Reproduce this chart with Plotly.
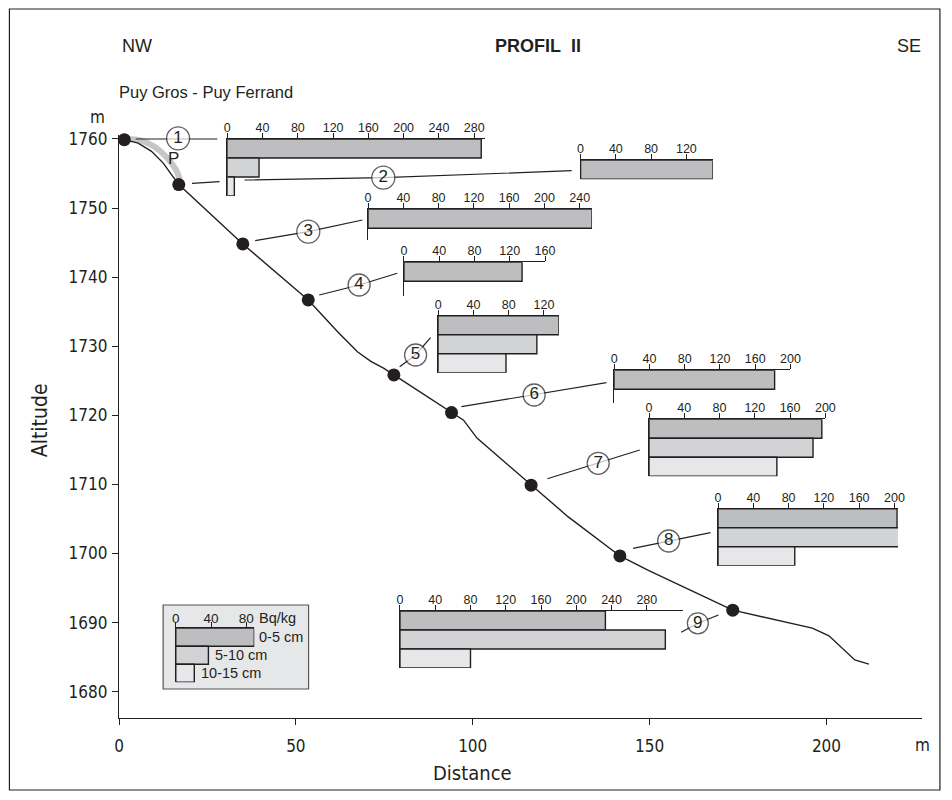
import plotly.graph_objects as go

# ---------------- data ----------------
profile_distance = [1.5, 5.4, 9.2, 12.5, 15.3, 16.9, 35.0, 53.5, 61.8, 67.4, 71.2, 74.9, 77.7,
                    94.0, 97.4, 101.2, 116.5, 127.0, 141.6, 149.5, 173.5, 196.0, 200.7, 208.0, 212.0]
profile_altitude = [1759.9, 1759.4, 1758.2, 1756.5, 1754.5, 1753.4, 1744.8, 1736.7, 1732.1, 1729.2,
                    1727.8, 1726.8, 1725.85, 1720.4, 1719.3, 1716.7, 1709.9, 1705.3, 1699.65, 1697.6,
                    1691.8, 1689.2, 1688.1, 1684.6, 1684.0]

site_labels = ["1", "2", "3", "4", "5", "6", "7", "8", "9"]
site_distance = [1.5, 16.9, 35.0, 53.5, 77.7, 94.0, 116.5, 141.6, 173.5]
site_altitude = [1759.9, 1753.4, 1744.8, 1736.7, 1725.85, 1720.4, 1709.9, 1699.65, 1691.8]

depth_classes = ["0-5 cm", "5-10 cm", "10-15 cm"]
activity_0_5 = [288, 150, 254, 134, 137, 182, 196, 203, 233]
activity_5_10 = [36, None, None, None, 112, None, 186, 211, 301]
activity_10_15 = [8, None, None, None, 77, None, 145, 87, 80]

legend_activity = [89, 37, 21]
legend_ticks = [0, 40, 80]

inset_ticks = [
    [0, 40, 80, 120, 160, 200, 240, 280],
    [0, 40, 80, 120],
    [0, 40, 80, 120, 160, 200, 240],
    [0, 40, 80, 120, 160],
    [0, 40, 80, 120],
    [0, 40, 80, 120, 160, 200],
    [0, 40, 80, 120, 160, 200],
    [0, 40, 80, 120, 160, 200],
    [0, 40, 80, 120, 160, 200, 240, 280],
]

distance_ticks = [0, 50, 100, 150, 200]
altitude_ticks = [1680, 1690, 1700, 1710, 1720, 1730, 1740, 1750, 1760]

# ---------------- layout / style ----------------
# figure is placed by the page at (8, 8); all *_px positions below are window pixels
OFF = 8
W, H = 936, 784
ML, MR, MT, MB = 111, 19, 127, 74
X_RANGE = [0, 227]
Y_RANGE = [1676.2, 1760.57]
PW, PH = W - ML - MR, H - MT - MB


def paper_x(px):
    return (px - OFF - ML) / PW


def paper_y(py):
    return (H - MB - (py - OFF)) / PH


def data_x(px):
    return X_RANGE[0] + paper_x(px) * (X_RANGE[1] - X_RANGE[0])


def data_y(py):
    return Y_RANGE[0] + paper_y(py) * (Y_RANGE[1] - Y_RANGE[0])


FONT = "Liberation Sans, Arial, sans-serif"
NARROW = "Liberation Sans Narrow, Arial Narrow, DejaVu Sans Condensed, Liberation Sans, sans-serif"
INK = "#231f20"
DEPTH_COLORS = ["#bcbec0", "#d1d3d4", "#e6e7e8"]
SCALE = 0.885      # px per Bq/kg in the insets
BAR_H = 19         # px per depth bar

# inset frames: (x px of zero, y px of top axis line, axis length in Bq/kg, stem px below bars)
inset_frames = [
    (227.7, 139.0, 292, 0),
    (582.3, 160.3, 150, 0),
    (369.0, 209.3, 254, 12),
    (405.0, 262.3, 160, 15),
    (439.3, 315.7, 137, 0),
    (616.0, 370.3, 200, 14),
    (651.0, 419.3, 200, 0),
    (720.3, 508.7, 204, 0),
    (401.0, 611.0, 321, 0),
]
legend_frame = (176.0, 628.3, 89, 0)
LEGEND_BAR_H = 18

circle_px = [(178.3, 138.3), (384.3, 177.7), (309, 231.7), (360, 285), (416.7, 355),
             (535.7, 395), (600, 463.3), (670.7, 541), (700, 623.3)]
circle_sizes = [23, 23, 23, 22, 22, 22, 22, 22, 21]
leader_px = [
    [(135.7, 139), (217.7, 139)],
    [(192.3, 183.3), (220, 181.7)],
    [(245, 180), (384.3, 177.7), (573.3, 170.7)],
    [(255.7, 240.7), (309, 231.7), (363.3, 220)],
    [(320, 295), (360, 285), (398.3, 273.3)],
    [(400.7, 366.7), (416.7, 355), (431.7, 337.7)],
    [(462.7, 406.7), (535.7, 395), (608.3, 382.7)],
    [(549, 478.7), (600, 463.3), (641.7, 450)],
    [(635, 548.3), (670.7, 541), (712.7, 532.7)],
    [(683.3, 632.3), (700, 623.3), (720.7, 615)],
]
shade_px = [(127, 139), (141, 140.5), (155, 147), (167, 157.5), (176, 169.5), (180, 179)]

fig = go.Figure()

# shaded band "P"
fig.add_trace(go.Scatter(
    x=[data_x(p[0]) for p in shade_px], y=[data_y(p[1]) for p in shade_px],
    mode="lines", line=dict(color="#c6c6c6", width=6, shape="spline"),
    hoverinfo="skip", showlegend=False, cliponaxis=False))

# profile line
fig.add_trace(go.Scatter(
    x=profile_distance, y=profile_altitude, mode="lines",
    line=dict(color=INK, width=1.4), hoverinfo="skip", showlegend=False, cliponaxis=False))

# leader lines
lx, ly = [], []
for seg in leader_px:
    for p in seg:
        lx.append(data_x(p[0]))
        ly.append(data_y(p[1]))
    lx.append(None)
    ly.append(None)
fig.add_trace(go.Scatter(x=lx, y=ly, mode="lines", line=dict(color=INK, width=1.2),
                         hoverinfo="skip", showlegend=False, cliponaxis=False))

# sample sites
fig.add_trace(go.Scatter(
    x=site_distance, y=site_altitude, mode="markers",
    marker=dict(color=INK, size=13, line=dict(width=0)),
    hoverinfo="skip", showlegend=False, cliponaxis=False))

# numbered circles
fig.add_trace(go.Scatter(
    x=[data_x(p[0]) for p in circle_px], y=[data_y(p[1]) for p in circle_px],
    mode="markers+text", text=site_labels, textposition="middle center",
    textfont=dict(family=FONT, size=17, color=INK),
    marker=dict(symbol="circle", size=circle_sizes, color="white", line=dict(color=INK, width=1.3)),
    hoverinfo="skip", showlegend=False, cliponaxis=False))

layout = dict(
    width=W, height=H,
    margin=dict(l=ML, r=MR, t=MT, b=MB),
    paper_bgcolor="white", plot_bgcolor="rgba(0,0,0,0)",
    font=dict(family=FONT, color=INK),
    showlegend=False,
    xaxis=dict(domain=[0, 1], range=X_RANGE, showline=True, linecolor=INK, linewidth=1.3,
               ticks="outside", ticklen=6, tickwidth=1.2, tickcolor=INK, tickvals=distance_ticks,
               tickfont=dict(size=17, family=NARROW, color=INK), ticklabelstandoff=6,
               showgrid=False, zeroline=False, fixedrange=True),
    yaxis=dict(domain=[0, 1], range=Y_RANGE, showline=True, linecolor=INK, linewidth=1.3,
               ticks="outside", ticklen=6, tickwidth=1.2, tickcolor=INK, tickvals=altitude_ticks,
               tickfont=dict(size=17, family=NARROW, color=INK), ticklabelstandoff=1,
               showgrid=False, zeroline=False, fixedrange=True),
)


def add_inset(n, values, frame, ticks, bar_h, font_size=12.5, standoff=-4):
    zero_px, top_px, length, stem = frame
    nb = len(values)
    fig.add_trace(go.Bar(
        x=values, y=list(range(nb)), orientation="h", width=1,
        marker=dict(color=DEPTH_COLORS[:nb], line=dict(color=INK, width=1.4)),
        xaxis=f"x{n}", yaxis=f"y{n}", hoverinfo="skip", showlegend=False, cliponaxis=False))
    dom_h = nb * bar_h + stem
    layout[f"xaxis{n}"] = dict(
        domain=[paper_x(zero_px), paper_x(zero_px + length * SCALE)], range=[0, length],
        anchor=f"y{n}", side="top", showline=True, linecolor=INK, linewidth=1.4,
        ticks="outside", ticklen=5, tickwidth=1.1, tickcolor=INK, tickvals=ticks,
        tickfont=dict(size=font_size, family=FONT, color=INK), ticklabelstandoff=standoff,
        showgrid=False, zeroline=False, fixedrange=True)
    layout[f"yaxis{n}"] = dict(domain=[paper_y(top_px + dom_h), paper_y(top_px)],
                               range=[nb - 0.5 + stem / bar_h, -0.5], anchor=f"x{n}",
                               showline=True, linecolor=INK, linewidth=1.4,
                               showticklabels=False, ticks="", showgrid=False,
                               zeroline=False, fixedrange=True)


for i in range(9):
    vals = [v for v in (activity_0_5[i], activity_5_10[i], activity_10_15[i]) if v is not None]
    add_inset(i + 2, vals, inset_frames[i], inset_ticks[i], BAR_H)

LEG = 11
add_inset(LEG, legend_activity, legend_frame, legend_ticks, LEGEND_BAR_H, font_size=13.5, standoff=-6)

annotations = []


def txt(text, px, py, size, xanchor="center", bold=False, angle=0, family=FONT):
    annotations.append(dict(
        text=f"<b>{text}</b>" if bold else text, x=paper_x(px), y=paper_y(py),
        xref="paper", yref="paper", xanchor=xanchor, yanchor="middle", showarrow=False,
        textangle=angle, font=dict(family=family, size=size, color=INK)))


txt("NW", 137, 46, 18)
txt("PROFIL\u00a0\u00a0II", 540, 46, 18, bold=True)
txt("SE", 912, 46, 18)
txt("Puy Gros - Puy Ferrand", 117, 91.5, 16.5, xanchor="left")
txt("m", 97, 117, 17, family=NARROW)
txt("P", 173.5, 158, 17)
txt("Distance", 474, 773, 20, family=NARROW)
txt("Altitude", 40, 420, 21, angle=-90, family=NARROW)
txt("m", 926, 745, 17, family=NARROW)

# legend labels
shifts = [3, 5, 5]
for j, label in enumerate(depth_classes):
    annotations.append(dict(
        text=label, x=legend_activity[j], y=j, xref=f"x{LEG}", yref=f"y{LEG}",
        xanchor="left", yanchor="middle", xshift=shifts[j], showarrow=False,
        font=dict(family=FONT, size=14.5, color=INK)))
annotations.append(dict(
    text="Bq/kg", x=80, y=paper_y(617.5), xref=f"x{LEG}", yref="paper",
    xanchor="left", yanchor="middle", xshift=10.5, showarrow=False,
    font=dict(family=FONT, size=14.5, color=INK)))

layout["annotations"] = annotations
layout["shapes"] = [
    dict(type="rect", xref="paper", yref="paper", x0=paper_x(9), x1=paper_x(943),
         y0=paper_y(790), y1=paper_y(9), line=dict(color=INK, width=1.2),
         fillcolor="rgba(0,0,0,0)", layer="below"),
    dict(type="rect", xref="paper", yref="paper", x0=paper_x(163.3), x1=paper_x(309.3),
         y0=paper_y(689), y1=paper_y(605), line=dict(color="#555555", width=1.2),
         fillcolor="#e6e7e8", layer="below"),
]

fig.update_layout(**layout)
fig.write_html("out.html")
